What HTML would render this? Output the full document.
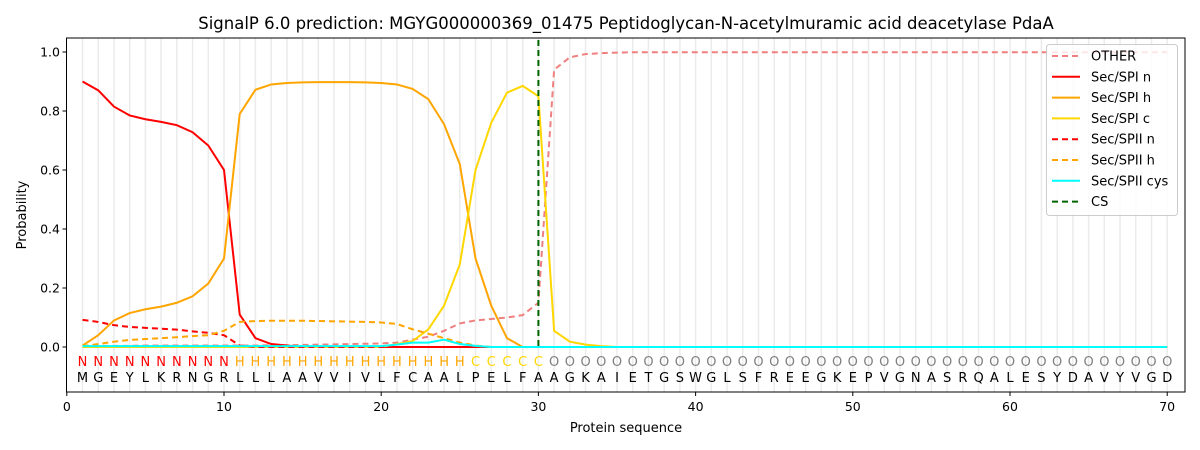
<!DOCTYPE html>
<html><head><meta charset="utf-8"><style>body{margin:0;background:#fff}svg{display:block;font-family:"DejaVu Sans","Liberation Sans",sans-serif}</style></head>
<body>
<svg id="s" width="1200" height="450" xmlns="http://www.w3.org/2000/svg">
<text x="626" y="29" font-size="16.5" text-anchor="middle">SignalP 6.0 prediction: MGYG000000369_01475 Peptidoglycan-N-acetylmuramic acid deacetylase PdaA</text>
<g id="grid"></g>
<g id="series"></g>
<line x1="538.4" y1="40" x2="538.4" y2="347" stroke="#006400" stroke-width="2" stroke-dasharray="6,4"/>
<g id="lab"></g>
<rect x="66.5" y="38" width="1118.5" height="354" fill="none" stroke="#000" stroke-width="1"/>
<g id="ticks" font-size="12.5"></g>
<text x="626" y="432" font-size="13" text-anchor="middle">Protein sequence</text>
<text transform="translate(26,215) rotate(-90)" font-size="13" text-anchor="middle">Probability</text>
<g id="leg"></g>
</svg>
<script>
const NS="http://www.w3.org/2000/svg";
function X(i){return 66.8+15.72*i}function Y(p){return 347-295*p}
function el(p,t,a,txt){const e=document.createElementNS(NS,t);for(const k in a)e.setAttribute(k,a[k]);if(txt!==undefined)e.textContent=txt;document.getElementById(p).appendChild(e);return e}
for(let i=1;i<=70;i++)el('grid','line',{x1:X(i),x2:X(i),y1:38,y2:392,stroke:'#ebebeb','stroke-width':1.5});
function fill(a){while(a.length<70)a.push(0);return a}
const other=fill([.003,.004,.004,.004,.005,.005,.005,.005,.005,.005,.005,.005,.006,.006,.007,.008,.009,.01,.011,.012,.015,.025,.035,.055,.08,.09,.095,.1,.108,.15,.94,.982,.993,.996,.998]);
for(let i=35;i<70;i++)other[i]=.999;
const n1=fill([.9,.87,.815,.785,.772,.763,.752,.728,.683,.6,.11,.03,.01,.005]);
const h1=fill([.005,.04,.09,.115,.128,.137,.15,.172,.215,.3,.79,.872,.89,.895,.897,.898,.898,.898,.897,.895,.89,.875,.84,.755,.62,.3,.14,.03,0]);
const c1=fill([0,0,0,0,0,0,0,0,0,0,0,0,0,0,0,0,0,0,0,0,.01,.02,.06,.14,.28,.6,.76,.862,.885,.85,.055,.018,.008,.003]);
const n2=fill([.092,.085,.074,.068,.065,.062,.059,.053,.048,.04,.005]);
const h2=fill([.003,.01,.018,.024,.027,.03,.033,.037,.04,.055,.085,.088,.089,.089,.089,.088,.087,.086,.085,.083,.078,.06,.045,.03,.015,.005]);
const cy=fill([.003,.003,.003,.003,.003,.003,.003,.003,.003,.003,.003,.003,.003,.003,.003,.003,.003,.003,.003,.003,.008,.015,.015,.025,.01,.004]);
const S=[[other,'#f08080','6,4'],[n1,'#ff0000',''],[h1,'#ffa500',''],[c1,'#ffd700',''],[n2,'#ff0000','6,4'],[h2,'#ffa500','6,4'],[cy,'#00ffff','']];
for(const [d,c,da] of S){el('series','polyline',{points:d.map((v,i)=>X(i+1)+','+Y(v)).join(' '),fill:'none',stroke:c,'stroke-width':2,'stroke-dasharray':da})}
const seq="MGEYLKRNGRLLLAAVVIVLFCAALPELFAAGKAIETGSWGLSFREEGKEPVGNASRQALESYDAVYVGD";
for(let i=1;i<=70;i++){let l,c;if(i<=10){l='N';c='#ff0000'}else if(i<=25){l='H';c='#ffa500'}else if(i<=30){l='C';c='#ffd700'}else{l='O';c='#808080'}
el('lab','text',{x:X(i),y:366,'font-size':13,'text-anchor':'middle',fill:c},l);
el('lab','text',{x:X(i),y:382,'font-size':13,'text-anchor':'middle',fill:'#000'},seq[i-1]);}
for(let v=0;v<=70;v+=10){el('ticks','line',{x1:X(v),x2:X(v),y1:392,y2:396,stroke:'#000'});el('ticks','text',{x:X(v),y:411,'text-anchor':'middle'},v)}
for(let k=0;k<=5;k++){const p=k*0.2,y=Y(p);el('ticks','line',{x1:62.5,x2:66.5,y1:y,y2:y,stroke:'#000'});el('ticks','text',{x:60,y:y+4.5,'text-anchor':'end'},p.toFixed(1))}
el('leg','rect',{x:1046.5,y:44.5,width:131,height:171,rx:3,fill:'#fff','fill-opacity':.8,stroke:'#ccc'});
const L=[['OTHER','#f08080','6,4'],['Sec/SPI n','#ff0000',''],['Sec/SPI h','#ffa500',''],['Sec/SPI c','#ffd700',''],['Sec/SPII n','#ff0000','6,4'],['Sec/SPII h','#ffa500','6,4'],['Sec/SPII cys','#00ffff',''],['CS','#006400','6,4']];
L.forEach((l,i)=>{const y=56+i*20.8;el('leg','line',{x1:1052,x2:1080,y1:y,y2:y,stroke:l[1],'stroke-width':2,'stroke-dasharray':l[2]});el('leg','text',{x:1091,y:y+4.5,'font-size':13},l[0])});
</script>
</body></html>
